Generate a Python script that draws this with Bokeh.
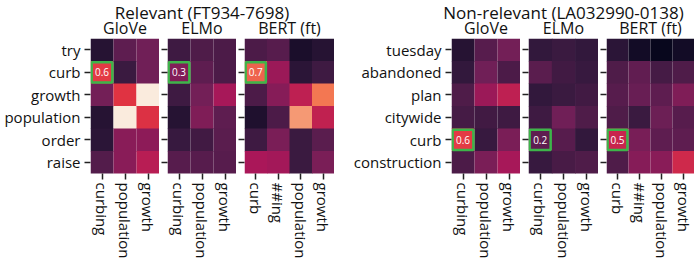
import numpy as np
from bokeh.plotting import figure
from bokeh.models import (ColumnDataSource, LinearColorMapper, FactorRange, Range1d,
                          CustomJSTickFormatter)
from bokeh.layouts import row, column
from bokeh.transform import transform
from bokeh.core.properties import value
from bokeh.embed import file_html
from bokeh.resources import INLINE

# ---------------------------------------------------------------- data
rel_title = "Relevant (FT934-7698)"
nonrel_title = "Non-relevant (LA032990-0138)"
model_names = ["GloVe", "ELMo", "BERT (ft)"]

rel_rows = ["try", "curb", "growth", "population", "order", "raise"]
nonrel_rows = ["tuesday", "abandoned", "plan", "citywide", "curb", "construction"]
word_cols = ["curbing", "population", "growth"]
wordpiece_cols = ["curb", "##ing", "population", "growth"]

rel_glove = [
    [0.06, 0.20, 0.25],
    [0.60, 0.10, 0.25],
    [0.26, 0.58, 1.00],
    [0.06, 1.00, 0.57],
    [0.07, 0.32, 0.33],
    [0.17, 0.32, 0.45],
]
rel_elmo = [
    [0.11, 0.16, 0.15],
    [0.30, 0.20, 0.15],
    [0.11, 0.26, 0.40],
    [0.06, 0.29, 0.20],
    [0.09, 0.12, 0.19],
    [0.18, 0.18, 0.18],
]
rel_bert = [
    [0.15, 0.18, 0.04, 0.06],
    [0.70, 0.37, 0.07, 0.11],
    [0.15, 0.31, 0.47, 0.75],
    [0.05, 0.15, 0.84, 0.48],
    [0.11, 0.28, 0.10, 0.19],
    [0.41, 0.39, 0.10, 0.28],
]
nonrel_glove = [
    [0.06, 0.18, 0.26],
    [0.08, 0.25, 0.15],
    [0.16, 0.37, 0.47],
    [0.13, 0.12, 0.11],
    [0.60, 0.09, 0.28],
    [0.15, 0.28, 0.40],
]
nonrel_elmo = [
    [0.08, 0.10, 0.08],
    [0.19, 0.12, 0.09],
    [0.08, 0.10, 0.12],
    [0.11, 0.25, 0.16],
    [0.20, 0.18, 0.08],
    [0.09, 0.14, 0.16],
]
nonrel_bert = [
    [0.07, 0.03, 0.01, 0.03],
    [0.16, 0.21, 0.13, 0.16],
    [0.18, 0.23, 0.20, 0.29],
    [0.16, 0.10, 0.24, 0.18],
    [0.50, 0.27, 0.20, 0.20],
    [0.16, 0.31, 0.32, 0.52],
]
highlight_row = "curb"

# ---------------------------------------------------------------- style
FONT = "Open Sans"
HDR_H = 38
HM_H = 226
FRAME_H = 135
BOX_GREEN = "#3db54a"


def rocket_palette(n=256):
    stops = [(0.0, "#03051a"), (1 / 12, "#35193e"), (3 / 12, "#701f57"),
             (5 / 12, "#ad1759"), (7 / 12, "#e13342"), (9 / 12, "#f37651"),
             (11 / 12, "#f6b48f"), (1.0, "#faebdd")]
    pos = np.array([s[0] for s in stops])
    rgb = np.array([[int(h[i:i + 2], 16) for i in (1, 3, 5)] for _, h in stops], float)
    t = np.linspace(0, 1, n)
    chans = [np.interp(t, pos, rgb[:, k]) for k in range(3)]
    return ["#%02x%02x%02x" % tuple(int(round(c[i])) for c in chans) for i in range(n)]


mapper = LinearColorMapper(palette=rocket_palette(), low=0.0, high=1.0)


def heatmap(rows, cols, vals, frame_w, left, labelled):
    xs, ys, vs = [], [], []
    for r, rv in zip(rows, vals):
        for c, v in zip(cols, rv):
            xs.append(c)
            ys.append(r)
            vs.append(v)
    src = ColumnDataSource(dict(x=xs, y=ys, v=vs))

    p = figure(width=left + frame_w, height=HM_H,
               x_range=FactorRange(*cols), y_range=FactorRange(*reversed(rows)),
               output_backend="svg", toolbar_location=None,
               min_border_left=left, min_border_right=0,
               min_border_top=0, min_border_bottom=HM_H - FRAME_H)
    p.rect(x="x", y="y", width=1, height=1, source=src,
           fill_color=transform("v", mapper), line_color=None, dilate=True)

    # highlighted query term: outlined cell with its value written inside
    hc = cols[0]
    hv = vals[rows.index(highlight_row)][0]
    p.rect(x=[hc], y=[highlight_row], width=0.9, height=0.9,
           fill_color=None, line_color=BOX_GREEN, line_width=2.5)
    p.text(x=[hc], y=[highlight_row], text=[f"{hv:.1f}"], text_color="white",
           text_font=value(FONT), text_font_size="10px",
           text_align="center", text_baseline="middle")

    p.grid.visible = False
    p.outline_line_color = None
    for ax in (p.xaxis, p.yaxis):
        ax.axis_line_color = None
        ax.major_tick_in = 0
        ax.major_tick_out = 6
        ax.major_tick_line_width = 1.5
        ax.major_tick_line_color = "#222222"
        ax.major_label_text_font = FONT
        ax.major_label_text_font_size = "15px"
        ax.major_label_text_color = "#111111"
    p.xaxis.major_label_orientation = "vertical"
    p.xaxis.major_label_standoff = 3
    p.yaxis.major_label_standoff = 4
    if not labelled:
        # rows share the labels of the first panel in the group: ticks only
        p.yaxis.formatter = CustomJSTickFormatter(code="return ''")
        p.yaxis.major_label_standoff = 0
    return p


panels = [
    heatmap(rel_rows, word_cols, rel_glove, 69, 90, True),
    heatmap(rel_rows, word_cols, rel_elmo, 69, 8, False),
    heatmap(rel_rows, wordpiece_cols, rel_bert, 90, 8, False),
    heatmap(nonrel_rows, word_cols, nonrel_glove, 69, 117, True),
    heatmap(nonrel_rows, word_cols, nonrel_elmo, 70, 8, False),
    heatmap(nonrel_rows, wordpiece_cols, nonrel_bert, 88, 8, False),
]

# centres of each heatmap frame, for the headings above them
centres = []
x0 = 0
for p in panels:
    left = p.min_border_left
    centres.append(x0 + left + (p.width - left) / 2)
    x0 += p.width
total_w = x0

hdr = figure(width=total_w, height=HDR_H, x_range=Range1d(0, total_w),
             y_range=Range1d(HDR_H, 0), output_backend="svg",
             toolbar_location=None, min_border=0,
             x_axis_location=None, y_axis_location=None)
hdr.grid.visible = False
hdr.outline_line_color = None
hdr.text(x=[centres[1], centres[4]], y=[11.7, 11.7], text=[rel_title, nonrel_title],
         text_font=value(FONT), text_font_size="17px", text_color="#111111",
         text_align="center", text_baseline="middle")
hdr.text(x=centres, y=[27.0] * 6, text=model_names * 2,
         text_font=value(FONT), text_font_size="16px", text_color="#111111",
         text_align="center", text_baseline="middle")

layout = column(hdr, row(*panels))
open("out.html", "w").write(file_html(layout, INLINE))
